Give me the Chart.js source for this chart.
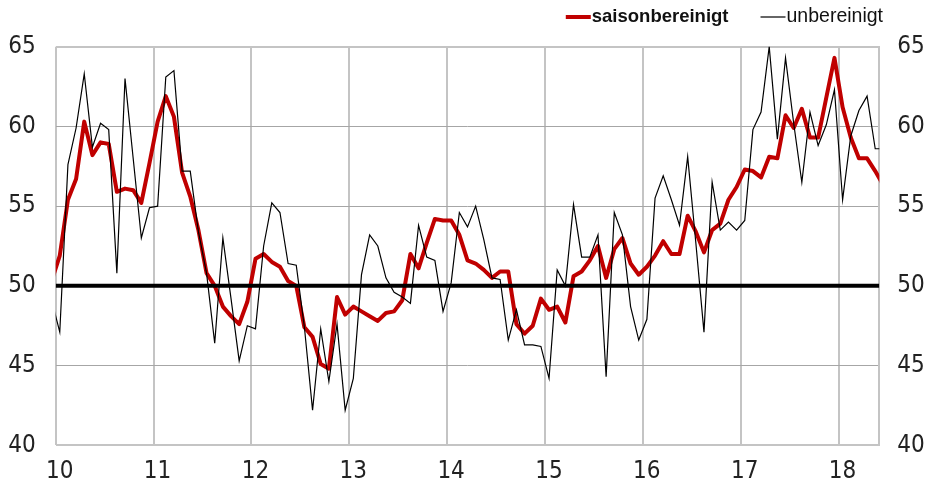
<!DOCTYPE html>
<html>
<head>
<meta charset="utf-8">
<script src="https://cdn.jsdelivr.net/npm/chart.js@4/dist/chart.umd.min.js"></script>
<style>
    html, body { margin: 0; padding: 0; background: #fff; }
    #wrap { width: 926px; height: 483px; }
</style>
</head>
<body>
<div id="wrap"><canvas id="chart" width="926" height="483"></canvas></div>
<script>
// Year labels on the x axis (one gridline per January)
const yearLabels = ['10', '11', '12', '13', '14', '15', '16', '17', '18'];

// Monthly values, Dec 2009 .. Jun 2018 (first and last are cut by the plot edge)
const saisonbereinigt = [
    50.3, 51.9, 55.4, 56.7, 60.3, 58.2, 59.0, 58.9, 55.9, 56.1, 56.0, 55.2,
    57.7, 60.3, 61.9, 60.6, 57.1, 55.6, 53.5, 50.8, 50.0, 48.7, 48.1, 47.6,
    49.0, 51.7, 52.0, 51.5, 51.2, 50.3, 50.0, 47.4, 46.8, 45.1, 44.8, 49.3,
    48.2, 48.7, 48.4, 48.1, 47.8, 48.3, 48.4, 49.1, 52.0, 51.1, 52.7, 54.2,
    54.1, 54.1, 53.2, 51.6, 51.4, 51.0, 50.5, 50.9, 50.9, 47.6, 47.0, 47.5,
    49.2, 48.5, 48.7, 47.7, 50.6, 50.9, 51.6, 52.5, 50.5, 52.3, 53.0, 51.4,
    50.7, 51.2, 51.9, 52.8, 52.0, 52.0, 54.4, 53.4, 52.1, 53.5, 53.9, 55.4,
    56.2, 57.3, 57.2, 56.8, 58.1, 58.0, 60.7, 59.9, 61.1, 59.3, 59.3, 61.8,
    64.3, 61.2, 59.3, 58.0, 58.0, 57.2, 56.3
];
const unbereinigt = [
    49.1, 47.1, 57.6, 59.9, 63.3, 58.7, 60.2, 59.8, 50.8, 63.0, 58.0, 53.0,
    54.9, 55.0, 63.1, 63.5, 57.2, 57.2, 53.4, 50.8, 46.4, 53.0, 49.2, 45.3,
    47.5, 47.3, 52.5, 55.2, 54.6, 51.4, 51.3, 47.4, 42.2, 47.3, 44.0, 47.6,
    42.2, 44.2, 50.7, 53.2, 52.5, 50.5, 49.6, 49.3, 48.9, 53.8, 51.8, 51.6,
    48.4, 50.2, 54.6, 53.7, 55.0, 52.9, 50.5, 50.4, 46.6, 48.5, 46.3, 46.3,
    46.2, 44.2, 51.0, 50.0, 55.1, 51.8, 51.8, 53.2, 44.3, 54.6, 53.2, 48.7,
    46.6, 47.9, 55.5, 56.9, 55.4, 53.8, 58.1, 52.7, 47.1, 56.5, 53.5, 54.0,
    53.5, 54.1, 59.8, 60.9, 65.0, 59.2, 64.3, 60.2, 56.5, 60.9, 58.8, 60.1,
    62.3, 55.4, 59.4, 61.0, 61.9, 58.6, 58.6
];
const threshold = 50;
const yTicks = { min: 40, max: 65, step: 5 };
const monthsShown = 101; // Jan 2010 .. May 2018

// points sit in the middle of their month, index 0 = Dec 2009
const toPoints = values => values.map((v, i) => ({ x: i - 0.5, y: v }));

const tickFont = { family: '"DejaVu Sans Condensed", "Liberation Sans", sans-serif', size: 24 };
const textColor = '#222';

// Legend in the top right corner, drawn right to left
const topLegend = {
    id: 'topLegend',
    afterDraw(chart) {
        const ctx = chart.ctx;
        const items = chart.data.datasets.filter(d => d.showInLegend);
        let x = 883;
        const y = 17;
        ctx.save();
        ctx.textBaseline = 'middle';
        for (let i = items.length - 1; i >= 0; i--) {
            const d = items[i];
            ctx.font = (d.legendBold ? 'bold 18.5px' : '19.5px') + ' "Liberation Sans", Arial, sans-serif';
            const w = ctx.measureText(d.label).width;
            x -= w;
            ctx.fillStyle = '#111';
            ctx.textAlign = 'left';
            ctx.fillText(d.label, x, y);
            ctx.strokeStyle = d.borderColor;
            ctx.lineWidth = d.borderWidth;
            ctx.beginPath();
            ctx.moveTo(x - 26, y);
            ctx.lineTo(x - 1, y);
            ctx.stroke();
            x -= 26 + 32;
        }
        ctx.restore();
    }
};

new Chart(document.getElementById('chart'), {
    type: 'line',
    data: {
        datasets: [
            {
                label: 'threshold',
                data: [{ x: 0, y: threshold }, { x: monthsShown, y: threshold }],
                borderColor: '#000',
                borderWidth: 4,
                pointRadius: 0,
                order: 0
            },
            {
                label: 'saisonbereinigt',
                data: toPoints(saisonbereinigt),
                borderColor: '#c00000',
                borderWidth: 4,
                borderJoinStyle: 'round',
                pointRadius: 0,
                tension: 0,
                clip: 0,
                order: 2,
                showInLegend: true,
                legendBold: true
            },
            {
                label: 'unbereinigt',
                data: toPoints(unbereinigt),
                borderColor: '#000',
                borderWidth: 1.2,
                pointRadius: 0,
                tension: 0,
                clip: 0,
                order: 1,
                showInLegend: true
            }
        ]
    },
    options: {
        responsive: false,
        animation: false,
        devicePixelRatio: 1,
        layout: { padding: { top: 46.7, left: 0, right: 0, bottom: 0 } },
        plugins: {
            legend: { display: false },
            tooltip: { enabled: false }
        },
        scales: {
            x: {
                type: 'linear',
                min: 0,
                max: monthsShown,
                afterBuildTicks: s => { s.ticks = yearLabels.map((_, i) => ({ value: i * 12 })); },
                afterFit: s => { s.height = 37.7; },
                ticks: {
                    callback: v => yearLabels[Math.round(v / 12)],
                    font: tickFont,
                    color: textColor,
                    padding: 12,
                    labelOffset: 4,
                    maxRotation: 0,
                    autoSkip: false
                },
                grid: { color: '#c4c4c4', lineWidth: 2, drawTicks: false },
                border: { display: false }
            },
            y: {
                position: 'left',
                min: yTicks.min,
                max: yTicks.max,
                afterFit: s => { s.width = 55.7; },
                ticks: { stepSize: yTicks.step, font: tickFont, color: textColor, padding: 20 },
                grid: {
                    drawTicks: false,
                    color: c => (c.tick.value === yTicks.min || c.tick.value === yTicks.max) ? '#c4c4c4' : '#a6a6a6',
                    lineWidth: c => (c.tick.value === yTicks.min || c.tick.value === yTicks.max) ? 2 : 1
                },
                border: { display: false }
            },
            yRight: {
                position: 'right',
                min: yTicks.min,
                max: yTicks.max,
                afterFit: s => { s.width = 46.7; },
                ticks: { stepSize: yTicks.step, font: tickFont, color: textColor, padding: 18 },
                grid: { display: false, drawTicks: false },
                border: { display: true, color: '#c4c4c4', width: 2 }
            }
        }
    },
    plugins: [topLegend]
});
</script>
</body>
</html>
